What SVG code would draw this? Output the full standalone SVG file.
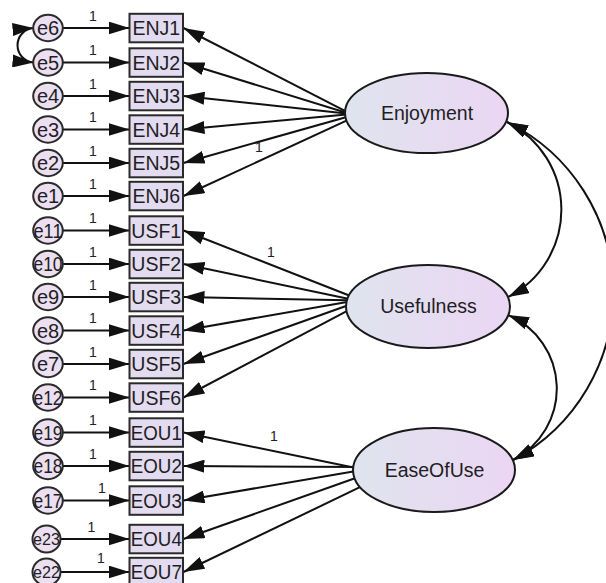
<svg xmlns="http://www.w3.org/2000/svg" width="606" height="583" viewBox="0 0 606 583">
  <style>
    .box { fill: #e3dbef; stroke: #2a2a2a; stroke-width: 2; }
    .err { fill: #ebdff1; stroke: #2a2a2a; stroke-width: 2; }
    .lat { fill: url(#latFill); stroke: #1a1a1a; stroke-width: 2; }
    .lbl { font-family: "Liberation Sans", Arial, sans-serif; fill: #1e1e24; text-anchor: middle; }
    .boxt { font-size: 19.5px; }
    .errt { font-size: 20px; }
    .errs { font-size: 17px; }
    .latt { font-size: 19.5px; }
    .wt { font-family: "Liberation Sans", Arial, sans-serif; font-size: 14px; fill: #222; text-anchor: middle; }
    .edge { fill: none; stroke: #111; stroke-width: 2; marker-end: url(#ah); }
    .cov { fill: none; stroke: #111; stroke-width: 2; marker-start: url(#ah); marker-end: url(#ah); }
  </style>
  <defs>
    <linearGradient id="latFill" x1="0" y1="0" x2="1" y2="0">
      <stop offset="0" stop-color="#dfe4ee"/>
      <stop offset="1" stop-color="#ebd6f3"/>
    </linearGradient>
    <marker id="ah" viewBox="0 0 21 13" refX="21" refY="6.5" markerWidth="21" markerHeight="13" markerUnits="userSpaceOnUse" orient="auto-start-reverse">
      <path d="M0,0 L21,6.5 L0,13 z" fill="#111"/>
    </marker>
  </defs>
  <rect width="606" height="583" fill="#ffffff"/>

  <!-- connectors -->
  <g id="connectors">
    <!-- error terms to indicators -->
    <path class="edge" d="M63,28 L129.5,28"/>
    <path class="edge" d="M63,62.5 L129.5,62.5"/>
    <path class="edge" d="M63,96 L129.5,96"/>
    <path class="edge" d="M63,129.5 L129.5,129.5"/>
    <path class="edge" d="M63,163 L129.5,163"/>
    <path class="edge" d="M63,196 L129.5,196"/>
    <path class="edge" d="M63,230.5 L129.5,230.5"/>
    <path class="edge" d="M63,264 L129.5,264"/>
    <path class="edge" d="M63,297 L129.5,297"/>
    <path class="edge" d="M63,330.5 L129.5,330.5"/>
    <path class="edge" d="M63,364 L129.5,364"/>
    <path class="edge" d="M63,397.5 L129.5,397.5"/>
    <path class="edge" d="M63,432.5 L129.5,432.5"/>
    <path class="edge" d="M63,466 L129.5,466"/>
    <path class="edge" d="M63,500.5 L129.5,500.5"/>
    <path class="edge" d="M60.5,539 L129.5,539"/>
    <path class="edge" d="M60.5,572 L129.5,572"/>

    <!-- Enjoyment loadings -->
    <path class="edge" d="M360,118.6 L183.5,28"/>
    <path class="edge" d="M360,117 L183.5,62.5"/>
    <path class="edge" d="M360,114.9 L183.5,96"/>
    <path class="edge" d="M360,113.3 L183.5,129.5"/>
    <path class="edge" d="M360,113.2 L183.5,163"/>
    <path class="edge" d="M360,114.4 L183.5,196"/>

    <!-- Usefulness loadings -->
    <path class="edge" d="M360,299.8 L183.5,230.5"/>
    <path class="edge" d="M360,301.3 L183.5,264"/>
    <path class="edge" d="M360,300.6 L183.5,297"/>
    <path class="edge" d="M360,299.8 L183.5,330.5"/>
    <path class="edge" d="M360,301 L183.5,364"/>
    <path class="edge" d="M360,304.1 L183.5,397.5"/>

    <!-- EaseOfUse loadings -->
    <path class="edge" d="M362,469.2 L183.5,432.5"/>
    <path class="edge" d="M362,467.1 L183.5,466"/>
    <path class="edge" d="M362,470 L183.5,500.5"/>
    <path class="edge" d="M362,475.8 L183.5,539"/>
    <path class="edge" d="M362,486.2 L183.5,572"/>

    <!-- covariances -->
    <path class="cov" d="M33.5,28 A17.3,17.3 0 0 0 33.5,62.5"/>
    <path class="cov" d="M507,122 A98,98 0 0 1 508,297"/>
    <path class="cov" d="M508,315 A80,80 0 0 1 513,460"/>
    <path class="cov" d="M507,122 A190,190 0 0 1 513,460"/>

    <!-- fixed weights -->
    <g>
      <text class="wt" x="93" y="20.5">1</text>
      <text class="wt" x="93" y="55">1</text>
      <text class="wt" x="93" y="88.5">1</text>
      <text class="wt" x="93" y="122">1</text>
      <text class="wt" x="93" y="155.5">1</text>
      <text class="wt" x="93" y="188.5">1</text>
      <text class="wt" x="93" y="223">1</text>
      <text class="wt" x="93" y="256.5">1</text>
      <text class="wt" x="93" y="289.5">1</text>
      <text class="wt" x="93" y="323">1</text>
      <text class="wt" x="93" y="356.5">1</text>
      <text class="wt" x="93" y="390">1</text>
      <text class="wt" x="93" y="425">1</text>
      <text class="wt" x="93" y="458.5">1</text>
      <text class="wt" x="102" y="493">1</text>
      <text class="wt" x="91.5" y="532">1</text>
      <text class="wt" x="101" y="563">1</text>
      <text class="wt" x="259" y="152">1</text>
      <text class="wt" x="271" y="257">1</text>
      <text class="wt" x="274" y="441">1</text>
    </g>
  </g>

  <!-- error terms -->
  <g id="e6"><ellipse class="err" cx="48" cy="28" rx="14.8" ry="13.2"/><text class="lbl errt" x="48" y="35.2">e6</text></g>
  <g id="e5"><ellipse class="err" cx="48" cy="62.5" rx="14.8" ry="13.2"/><text class="lbl errt" x="48" y="69.7">e5</text></g>
  <g id="e4"><ellipse class="err" cx="48" cy="96" rx="14.8" ry="13.2"/><text class="lbl errt" x="48" y="103.2">e4</text></g>
  <g id="e3"><ellipse class="err" cx="48" cy="129.5" rx="14.8" ry="13.2"/><text class="lbl errt" x="48" y="136.7">e3</text></g>
  <g id="e2"><ellipse class="err" cx="48" cy="163" rx="14.8" ry="13.2"/><text class="lbl errt" x="48" y="170.2">e2</text></g>
  <g id="e1"><ellipse class="err" cx="48" cy="196" rx="14.8" ry="13.2"/><text class="lbl errt" x="48" y="203.2">e1</text></g>
  <g id="e11"><ellipse class="err" cx="48" cy="230.5" rx="14.8" ry="13.2"/><text class="lbl errt" x="48" y="237.7" textLength="29" lengthAdjust="spacingAndGlyphs">e11</text></g>
  <g id="e10"><ellipse class="err" cx="48" cy="264" rx="14.8" ry="13.2"/><text class="lbl errt" x="48" y="271.2" textLength="29" lengthAdjust="spacingAndGlyphs">e10</text></g>
  <g id="e9"><ellipse class="err" cx="48" cy="297" rx="14.8" ry="13.2"/><text class="lbl errt" x="48" y="304.2">e9</text></g>
  <g id="e8"><ellipse class="err" cx="48" cy="330.5" rx="14.8" ry="13.2"/><text class="lbl errt" x="48" y="337.7">e8</text></g>
  <g id="e7"><ellipse class="err" cx="48" cy="364" rx="14.8" ry="13.2"/><text class="lbl errt" x="48" y="371.2">e7</text></g>
  <g id="e12"><ellipse class="err" cx="48" cy="397.5" rx="14.8" ry="13.2"/><text class="lbl errt" x="48" y="404.7" textLength="29" lengthAdjust="spacingAndGlyphs">e12</text></g>
  <g id="e19"><ellipse class="err" cx="48" cy="432.5" rx="14.8" ry="13.2"/><text class="lbl errt" x="48" y="439.7" textLength="29" lengthAdjust="spacingAndGlyphs">e19</text></g>
  <g id="e18"><ellipse class="err" cx="48" cy="466" rx="14.8" ry="13.2"/><text class="lbl errt" x="48" y="473.2" textLength="29" lengthAdjust="spacingAndGlyphs">e18</text></g>
  <g id="e17"><ellipse class="err" cx="48" cy="500.5" rx="14.8" ry="13.2"/><text class="lbl errt" x="48" y="507.7" textLength="29" lengthAdjust="spacingAndGlyphs">e17</text></g>
  <g id="e23"><ellipse class="err" cx="46.5" cy="539" rx="14" ry="13.5"/><text class="lbl errs" x="46.5" y="545" textLength="27" lengthAdjust="spacingAndGlyphs">e23</text></g>
  <g id="e22"><ellipse class="err" cx="46.5" cy="572" rx="14" ry="13.5"/><text class="lbl errs" x="46.5" y="578" textLength="27" lengthAdjust="spacingAndGlyphs">e22</text></g>

  <!-- observed indicators -->
  <g id="ENJ1"><rect class="box" x="129.5" y="13.8" width="53.5" height="28.5"/><text class="lbl boxt" x="156.3" y="35.2">ENJ1</text></g>
  <g id="ENJ2"><rect class="box" x="129.5" y="48.3" width="53.5" height="28.5"/><text class="lbl boxt" x="156.3" y="69.7">ENJ2</text></g>
  <g id="ENJ3"><rect class="box" x="129.5" y="81.8" width="53.5" height="28.5"/><text class="lbl boxt" x="156.3" y="103.2">ENJ3</text></g>
  <g id="ENJ4"><rect class="box" x="129.5" y="115.3" width="53.5" height="28.5"/><text class="lbl boxt" x="156.3" y="136.7">ENJ4</text></g>
  <g id="ENJ5"><rect class="box" x="129.5" y="148.8" width="53.5" height="28.5"/><text class="lbl boxt" x="156.3" y="170.2">ENJ5</text></g>
  <g id="ENJ6"><rect class="box" x="129.5" y="181.8" width="53.5" height="28.5"/><text class="lbl boxt" x="156.3" y="203.2">ENJ6</text></g>
  <g id="USF1"><rect class="box" x="129.5" y="216.3" width="53.5" height="28.5"/><text class="lbl boxt" x="156.3" y="237.7">USF1</text></g>
  <g id="USF2"><rect class="box" x="129.5" y="249.8" width="53.5" height="28.5"/><text class="lbl boxt" x="156.3" y="271.2">USF2</text></g>
  <g id="USF3"><rect class="box" x="129.5" y="282.8" width="53.5" height="28.5"/><text class="lbl boxt" x="156.3" y="304.2">USF3</text></g>
  <g id="USF4"><rect class="box" x="129.5" y="316.3" width="53.5" height="28.5"/><text class="lbl boxt" x="156.3" y="337.7">USF4</text></g>
  <g id="USF5"><rect class="box" x="129.5" y="349.8" width="53.5" height="28.5"/><text class="lbl boxt" x="156.3" y="371.2">USF5</text></g>
  <g id="USF6"><rect class="box" x="129.5" y="383.3" width="53.5" height="28.5"/><text class="lbl boxt" x="156.3" y="404.7">USF6</text></g>
  <g id="EOU1"><rect class="box" x="129.5" y="418.3" width="53.5" height="28.5"/><text class="lbl boxt" x="156.3" y="439.7" textLength="51" lengthAdjust="spacingAndGlyphs">EOU1</text></g>
  <g id="EOU2"><rect class="box" x="129.5" y="451.8" width="53.5" height="28.5"/><text class="lbl boxt" x="156.3" y="473.2" textLength="51" lengthAdjust="spacingAndGlyphs">EOU2</text></g>
  <g id="EOU3"><rect class="box" x="129.5" y="486.3" width="53.5" height="28.5"/><text class="lbl boxt" x="156.3" y="507.7" textLength="51" lengthAdjust="spacingAndGlyphs">EOU3</text></g>
  <g id="EOU4"><rect class="box" x="129.5" y="524.8" width="53.5" height="28.5"/><text class="lbl boxt" x="156.3" y="546.2" textLength="51" lengthAdjust="spacingAndGlyphs">EOU4</text></g>
  <g id="EOU7"><rect class="box" x="129.5" y="557.8" width="53.5" height="28.5"/><text class="lbl boxt" x="156.3" y="579.2" textLength="51" lengthAdjust="spacingAndGlyphs">EOU7</text></g>

  <!-- latent factors -->
  <g id="Enjoyment"><ellipse class="lat" cx="426.5" cy="113" rx="81.5" ry="40"/><text class="lbl latt" x="427" y="120">Enjoyment</text></g>
  <g id="Usefulness"><ellipse class="lat" cx="428" cy="306.5" rx="82" ry="41.5"/><text class="lbl latt" x="428.5" y="313">Usefulness</text></g>
  <g id="EaseOfUse"><ellipse class="lat" cx="434" cy="470" rx="81" ry="42"/><text class="lbl latt" x="434.5" y="477">EaseOfUse</text></g>
</svg>
